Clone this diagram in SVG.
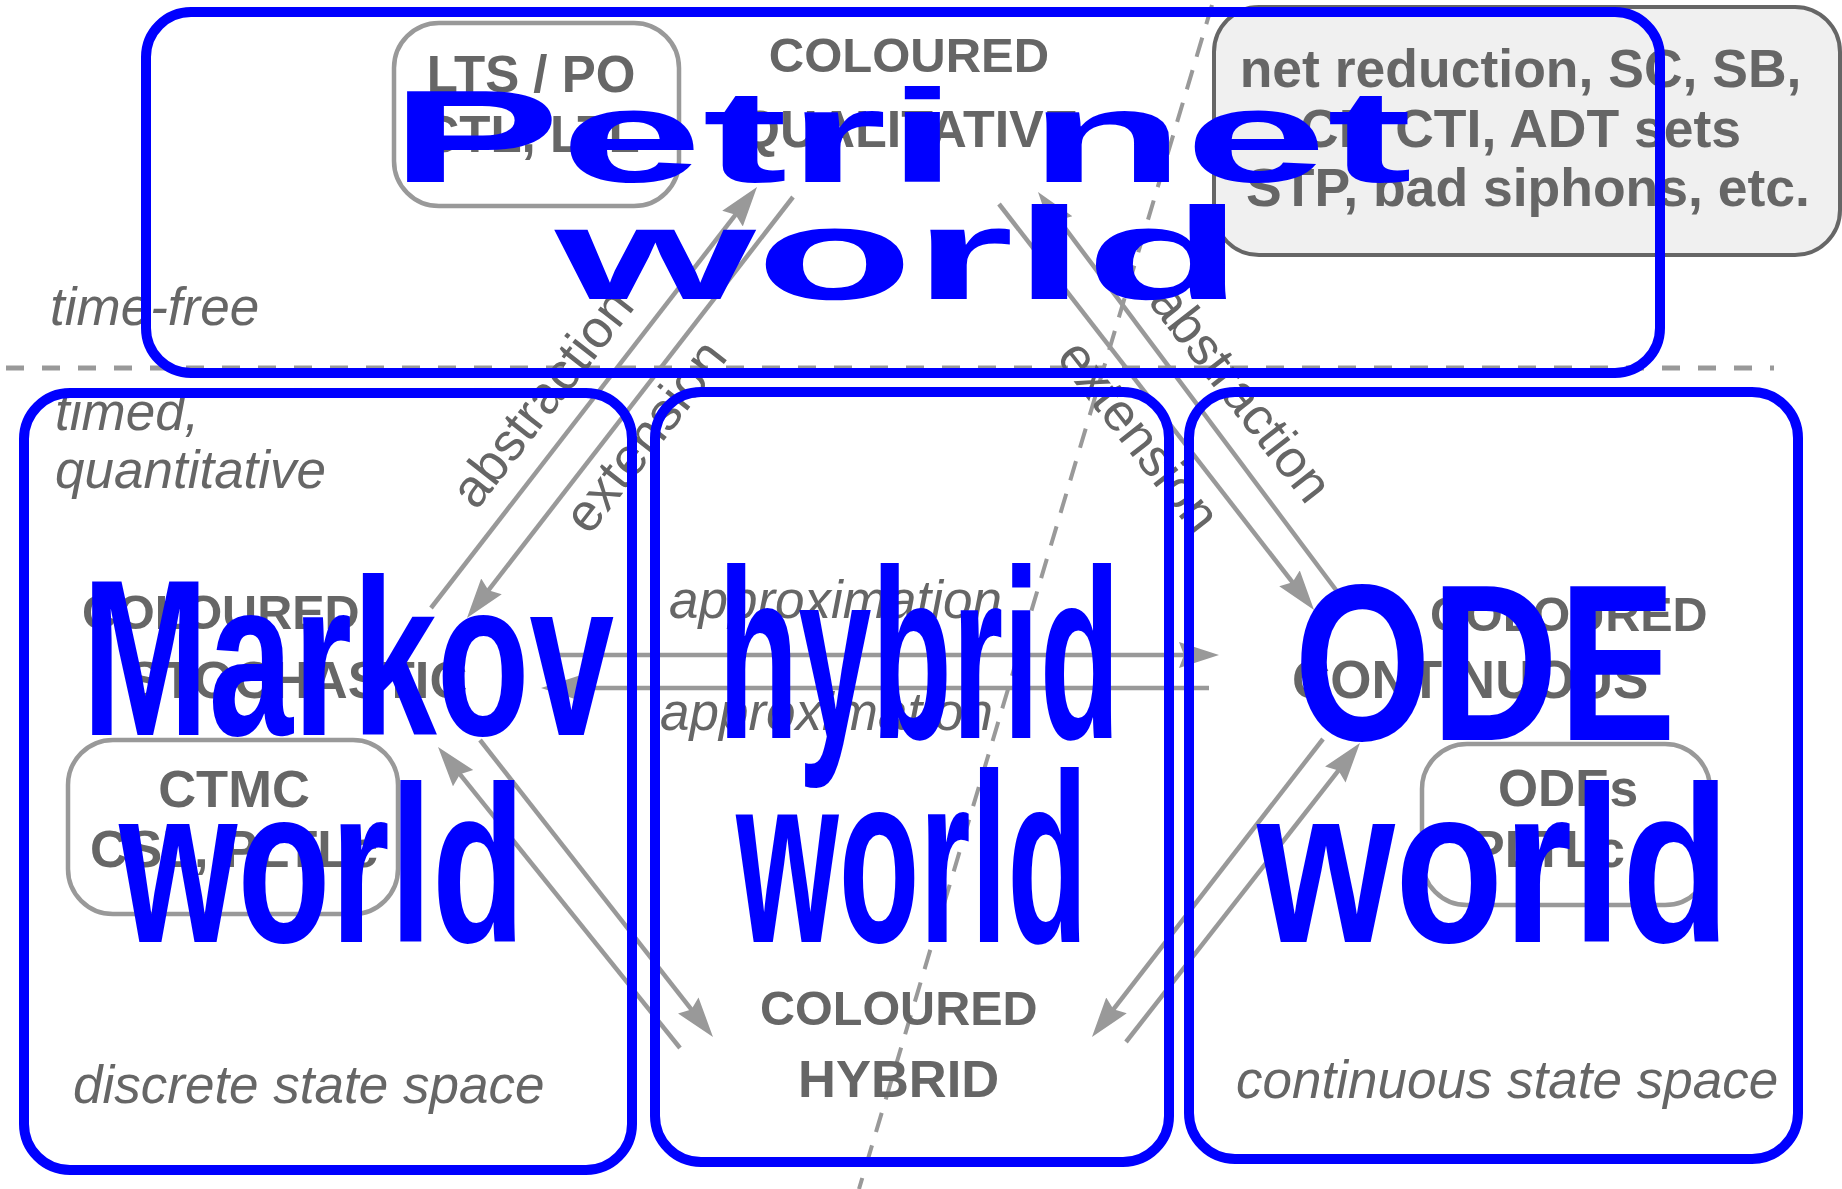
<svg xmlns="http://www.w3.org/2000/svg" width="1842" height="1189" viewBox="0 0 1842 1189">
  <style>
    text { font-family: "Liberation Sans", Arial, sans-serif; }
    .sep { fill: none; stroke: #999; stroke-width: 5; stroke-dasharray: 18 18; }
    .diag { fill: none; stroke: #999; stroke-width: 4; stroke-dasharray: 20 14; }
    .world { fill: none; stroke: #00f; stroke-width: 10; }
    .sub { fill: none; stroke: #999; stroke-width: 4.5; }
    .info { fill: #f0f0f0; stroke: #666; stroke-width: 4; }
    .kind { fill: #666; font-weight: bold; }
    .note { fill: #666; font-style: italic; font-size: 53px; }
    .rel { fill: #666; font-size: 53px; text-anchor: middle; }
    .arc { fill: none; stroke: #999; stroke-width: 4.5; marker-end: url(#head); }
    .big { fill: #00f; font-weight: bold; }
  </style>
  <defs>
    <marker id="head" markerUnits="userSpaceOnUse" markerWidth="42" markerHeight="28" refX="30" refY="13" orient="auto">
      <path d="M0,0 L40,13 L0,26 L5,13 Z" fill="#999"/>
    </marker>
  </defs>

  <!-- separators: time-free / timed, discrete / continuous -->
  <g id="separators">
    <line class="sep" x1="6" y1="368" x2="1774" y2="368"/>
    <line class="diag" x1="1212" y1="5" x2="859" y2="1189"/>
  </g>

  <!-- axis annotations -->
  <g id="annotations">
    <text class="note" x="50" y="325" font-size="52">time-free</text>
    <text class="note" x="55" y="430">timed,</text>
    <text class="note" x="55" y="488">quantitative</text>
    <text class="note" x="73" y="1103" font-size="54">discrete state space</text>
    <text class="note" x="1236" y="1098" font-size="53.3">continuous state space</text>
  </g>

  <!-- transformations between the worlds -->
  <g id="connectors">
    <line class="arc" x1="431" y1="608" x2="750.9" y2="194.9"/>
    <line class="arc" x1="793" y1="197" x2="473.1" y2="610.1"/>
    <line class="arc" x1="999" y1="204" x2="1307.9" y2="602.1"/>
    <line class="arc" x1="1336" y1="590" x2="1044" y2="200"/>
    <line class="arc" x1="680" y1="1048" x2="444.3" y2="754.8"/>
    <line class="arc" x1="480" y1="740" x2="706.8" y2="1029.1"/>
    <line class="arc" x1="1323" y1="739" x2="1098.1" y2="1029.1"/>
    <line class="arc" x1="1126" y1="1042" x2="1353.8" y2="750.9"/>
    <line class="arc" x1="552" y1="655" x2="1209" y2="655"/>
    <line class="arc" x1="1209" y1="688" x2="551" y2="688"/>
    <text class="rel" transform="translate(556,409) rotate(-52)">abstraction</text>
    <text class="rel" transform="translate(659,447) rotate(-52)">extension</text>
    <text class="rel" transform="translate(1125,447) rotate(52)">extension</text>
    <text class="rel" transform="translate(1227,404) rotate(52)">abstraction</text>
    <text class="note" x="669" y="618" font-size="54">approximation</text>
    <text class="note" x="660" y="730" font-size="53.5">approximation</text>
  </g>

  <!-- Petri net world -->
  <g id="petri-net-world">
    <rect class="sub" x="394" y="23" width="285" height="183" rx="45"/>
    <text class="kind" x="531" y="92" font-size="51" text-anchor="middle">LTS / PO</text>
    <text class="kind" x="531" y="152" font-size="51" text-anchor="middle">CTL, LTL</text>
    <text class="kind" x="909" y="72" font-size="49" text-anchor="middle">COLOURED</text>
    <text class="kind" x="909" y="147" font-size="52" text-anchor="middle">QUALITATIVE</text>
    <rect class="info" x="1214" y="7" width="626" height="248" rx="45"/>
    <text class="kind" font-size="53.5" text-anchor="middle">
      <tspan x="1528" y="87">net reduction, SC, SB,</tspan>
      <tspan x="1528" y="147">CF, CTI, ADT sets</tspan>
      <tspan x="1528" y="206">STP, bad siphons, etc.</tspan>
    </text>
    <rect class="world" x="146" y="12" width="1514" height="361" rx="45"/>
    <text class="big" x="390" y="182" font-size="131" textLength="1022" lengthAdjust="spacingAndGlyphs">Petri net</text>
    <text class="big" x="555" y="299" font-size="131" textLength="688" lengthAdjust="spacingAndGlyphs">world</text>
  </g>

  <!-- Markov world -->
  <g id="markov-world">
    <text class="kind" x="82" y="629" font-size="48.5">COLOURED</text>
    <text class="kind" x="127" y="698" font-size="52.5">STOCHASTIC</text>
    <rect class="sub" x="68" y="740" width="330" height="174" rx="45"/>
    <text class="kind" x="234" y="807" font-size="52.5" text-anchor="middle">CTMC</text>
    <text class="kind" x="234" y="867" font-size="52" text-anchor="middle">CSL, PLTLc</text>
    <rect class="world" x="24" y="393" width="608" height="777" rx="46"/>
    <text class="big" x="82" y="735" font-size="222" textLength="532" lengthAdjust="spacingAndGlyphs">Markov</text>
    <text class="big" x="119" y="942" font-size="222" textLength="406" lengthAdjust="spacingAndGlyphs">world</text>
  </g>

  <!-- hybrid world -->
  <g id="hybrid-world">
    <text class="kind" x="760" y="1025" font-size="48.5">COLOURED</text>
    <text class="kind" x="798" y="1097" font-size="52.5">HYBRID</text>
    <rect class="world" x="655" y="392" width="514" height="770" rx="46"/>
    <text class="big" x="718" y="738" font-size="242" textLength="402" lengthAdjust="spacingAndGlyphs">hybrid</text>
    <text class="big" x="736" y="942" font-size="242" textLength="352" lengthAdjust="spacingAndGlyphs">world</text>
  </g>

  <!-- ODE world -->
  <g id="ode-world">
    <text class="kind" x="1430" y="631" font-size="48.5">COLOURED</text>
    <text class="kind" x="1292" y="698" font-size="53">CONTINUOUS</text>
    <rect class="sub" x="1422" y="744" width="288" height="161" rx="45"/>
    <text class="kind" x="1568" y="806" font-size="51.5" text-anchor="middle">ODEs</text>
    <text class="kind" x="1470" y="867" font-size="52">PLTLc</text>
    <rect class="world" x="1189" y="392" width="609" height="767" rx="46"/>
    <text class="big" x="1294" y="740" font-size="222" textLength="382" lengthAdjust="spacingAndGlyphs">ODE</text>
    <text class="big" x="1257" y="942" font-size="222" textLength="473" lengthAdjust="spacingAndGlyphs">world</text>
  </g>
</svg>
